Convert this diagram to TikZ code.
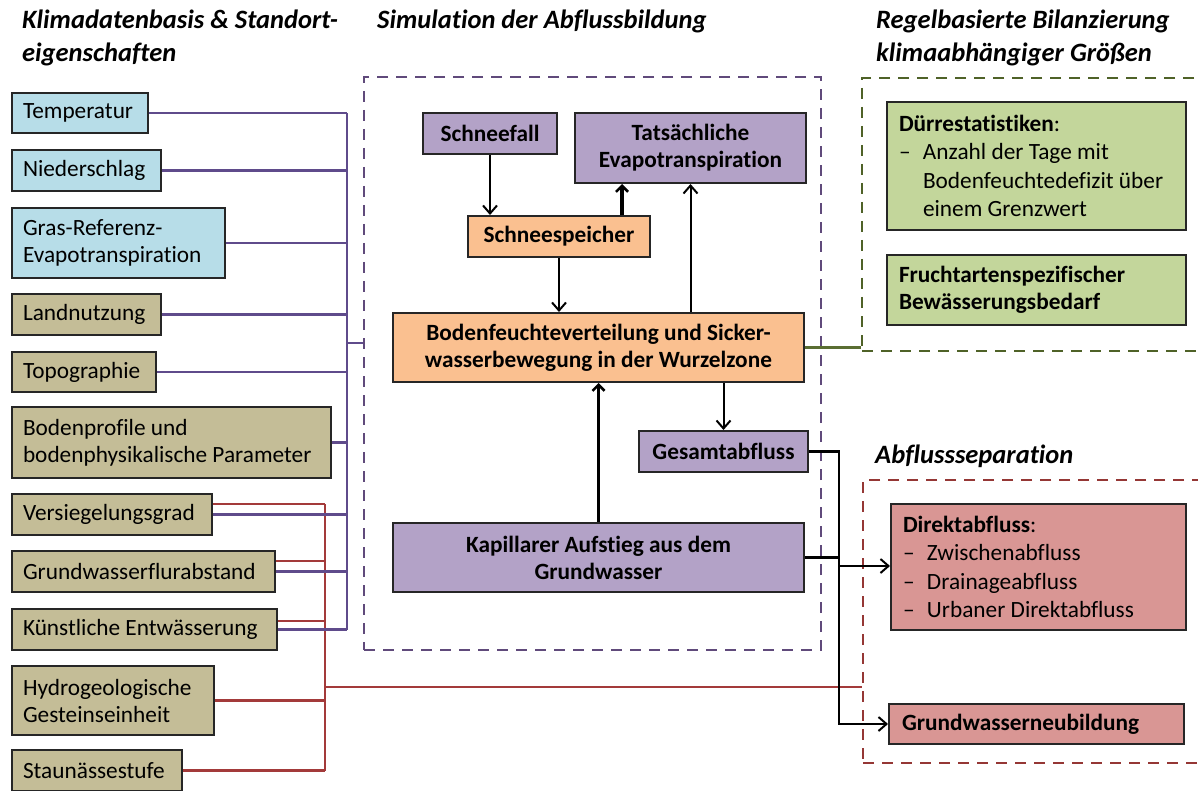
\documentclass[tikz,border=0pt]{standalone}
\usepackage{fontspec}
\setmainfont{Carlito}[Ligatures=NoCommon]
\usetikzlibrary{arrows.meta,calc}
\hyphenpenalty=10000
\exhyphenpenalty=10000
\definecolor{cblue}{HTML}{B7DDE8}
\definecolor{ctan}{HTML}{C4BD97}
\definecolor{cpurp}{HTML}{B3A2C7}
\definecolor{corange}{HTML}{FAC090}
\definecolor{cgreen}{HTML}{C3D69B}
\definecolor{cred}{HTML}{D99694}
\definecolor{lpurp}{HTML}{5F4B8B}
\definecolor{lred}{HTML}{A33A3A}
\definecolor{lgreen}{HTML}{5A6E32}
\definecolor{fpurp}{HTML}{604A7B}
\definecolor{fred}{HTML}{953735}
\definecolor{fgreen}{HTML}{4F6228}
\tikzset{
  box/.style={draw=black!85, line width=2pt, inner ysep=0pt},
  txt/.style={font=\fontsize{23.3}{27}\selectfont},
  lbox/.style={box, txt, align=flush left, inner xsep=11pt},
  cbox/.style={box, font=\fontsize{23.3}{27}\selectfont\bfseries, align=center, inner xsep=0pt},
  rbox/.style={box, font=\fontsize{23.3}{28.5}\selectfont, align=flush left, inner xsep=12pt},
  ttl/.style={font=\fontsize{26.5}{33.5}\selectfont\bfseries\itshape, align=flush left, inner sep=0pt, anchor=base west},
  frame/.style={line width=2.8pt, dash pattern=on 11pt off 8pt, inner sep=0pt},
  pline/.style={draw=lpurp, line width=2.4pt},
  rline/.style={draw=lred, line width=2.4pt},
  gline/.style={draw=lgreen, line width=2.4pt},
  thinarr/.style={draw=black, line width=2pt, -{Straight Barb[length=8pt,width=14pt,line width=2pt]}},
  thickarr/.style={draw=black, line width=3.5pt, -{Straight Barb[length=6pt,width=12pt,line width=2.6pt]}},
  bline/.style={draw=black, line width=2.2pt},
}
\newcommand{\dashitem}{\makebox[24pt][l]{–}}
\begin{document}
\begin{tikzpicture}[x=1pt,y=-1pt]
\clip (0,0) rectangle (1198,791);
\fill[white] (0,0) rectangle (1198,791);

% titles (anchor at baseline of last line)
\node[ttl] (t1) at (22,62) {Klimadatenbasis \& Standort-\\eigenschaften};
\node[ttl] (t2) at (377,29) {Simulation der Abflussbildung};
\node[ttl] (t3) at (876,62) {Regelbasierte Bilanzierung\\klimaabhängiger Größen};
\node[ttl] (t4) at (875,463) {Abflussseparation};

% frames
\node[frame, draw=fpurp, minimum width=457pt, minimum height=573pt] (simf) at (592.5,363.5) {};
\node[frame, draw=fgreen, minimum width=343pt, minimum height=273pt] (grnf) at (1033.5,214.5) {};
\node[frame, draw=fred, minimum width=342pt, minimum height=283pt] (redf) at (1034,621.5) {};

% left column
\node[lbox, fill=cblue, minimum width=136pt, minimum height=40pt, text width=114pt] (temp) at (80,113) {Temperatur};
\node[lbox, fill=cblue, minimum width=149pt, minimum height=41pt, text width=127pt] (nied) at (86.5,170.5) {Niederschlag};
\node[lbox, fill=cblue, minimum width=213pt, minimum height=70pt, text width=191pt] (gras) at (118.5,243) {Gras-Referenz-\\Evapotranspiration};
\node[lbox, fill=ctan, minimum width=149pt, minimum height=41pt, text width=127pt] (land) at (86.5,314.5) {Landnutzung};
\node[lbox, fill=ctan, minimum width=144pt, minimum height=40pt, text width=122pt] (topo) at (84,372) {Topographie};
\node[lbox, fill=ctan, minimum width=319pt, minimum height=71pt, text width=297pt] (boden) at (171.5,442.5) {Bodenprofile und\\bodenphysikalische Parameter};
\node[lbox, fill=ctan, minimum width=200pt, minimum height=41pt, text width=178pt] (vers) at (112,514.5) {Versiegelungsgrad};
\node[lbox, fill=ctan, minimum width=263pt, minimum height=41pt, text width=241pt] (gwfa) at (143.5,571.5) {Grundwasserflurabstand};
\node[lbox, fill=ctan, minimum width=265pt, minimum height=41pt, text width=243pt] (kuen) at (144.5,629.5) {Künstliche Entwässerung};
\node[lbox, fill=ctan, minimum width=202pt, minimum height=69pt, text width=180pt] (hydro) at (113,700.5) {Hydrogeologische\\Gesteinseinheit};
\node[lbox, fill=ctan, minimum width=170pt, minimum height=41pt, text width=148pt] (stau) at (97,770.5) {Staunässestufe};

% middle
\node[cbox, fill=cpurp, minimum width=134pt, minimum height=41pt] (snow) at (490,133.5) {Schneefall};
\node[cbox, fill=cpurp, minimum width=231pt, minimum height=70pt] (tats) at (690.5,148) {Tatsächliche\\Evapotranspiration};
\node[cbox, fill=corange, minimum width=182pt, minimum height=41pt] (sp) at (559,236.5) {Schneespeicher};
\node[cbox, fill=corange, minimum width=411pt, minimum height=69pt] (bf) at (598.5,347.5) {Bodenfeuchteverteilung und Sicker-\\wasserbewegung in der Wurzelzone};
\node[cbox, fill=cpurp, minimum width=169pt, minimum height=41pt] (ges) at (723.5,451.5) {Gesamtabfluss};
\node[cbox, fill=cpurp, minimum width=411pt, minimum height=69pt] (kap) at (598.5,557.5) {Kapillarer Aufstieg aus dem\\Grundwasser};

% right
\node[rbox, fill=cgreen, minimum width=299pt, minimum height=128pt, text width=275pt] (due) at (1036.5,166) {\textbf{Dürrestatistiken}:\\\dashitem Anzahl der Tage mit\\\hspace*{24pt}Bodenfeuchtedefizit über\\\hspace*{24pt}einem Grenzwert};
\node[rbox, fill=cgreen, minimum width=299pt, minimum height=70pt, text width=275pt, font=\fontsize{23.3}{27}\selectfont\bfseries] (fru) at (1036.5,290) {Fruchtartenspezifischer\\Bewässerungsbedarf};
\node[rbox, fill=cred, minimum width=295pt, minimum height=126pt, text width=271pt] (dir) at (1038.5,567) {\textbf{Direktabfluss}:\\\dashitem Zwischenabfluss\\\dashitem Drainageabfluss\\\dashitem Urbaner Direktabfluss};
\node[rbox, fill=cred, minimum width=295pt, minimum height=40pt, text width=269pt, inner xsep=13pt, font=\fontsize{23.3}{27}\selectfont\bfseries] (gwn) at (1036.5,724) {Grundwasserneubildung};

% purple bus
\coordinate (pbt) at (347,113);
\coordinate (pbb) at (347,630);
\coordinate (pbj) at (347,343);
\draw[pline] (pbt) -- (pbb);
\draw[pline] (temp.east) -- (temp.east -| pbt);
\draw[pline] (nied.east) -- (nied.east -| pbt);
\draw[pline] (gras.east) -- (gras.east -| pbt);
\draw[pline] (land.east) -- (land.east -| pbt);
\draw[pline] (topo.east) -- (topo.east -| pbt);
\draw[pline] (boden.east) -- (boden.east -| pbt);
\draw[pline] (pbj) -- (pbj -| simf.west);

% red bus
\coordinate (rbt) at (325,504);
\coordinate (rbb) at (325,771);
\coordinate (rbj) at (325,687);
\draw[rline] (rbt) -- (rbb);
\draw[rline] ([yshift=10.5pt]vers.east) -- (rbt);
\draw[rline] ([yshift=10.5pt]gwfa.east) -- ([yshift=10.5pt]gwfa.east -| rbt);
\draw[rline] ([yshift=8.5pt]kuen.east) -- ([yshift=8.5pt]kuen.east -| rbt);
\draw[rline] (hydro.east) -- (hydro.east -| rbt);
\draw[rline] (stau.east) -- (stau.east -| rbt);
\draw[rline] (rbj) -- (rbj -| redf.west);

% purple lines over red bus
\draw[pline] (vers.east) -- (vers.east -| pbt);
\draw[pline] (gwfa.east) -- (gwfa.east -| pbt);
\draw[pline] (kuen.east) -- (kuen.east -| pbt);

% green link
\draw[gline] (bf.east) -- (bf.east -| grnf.west);

% arrows in simulation
\draw[thinarr] (snow.south) -- (snow.south |- sp.north);
\draw[thickarr] ([xshift=63pt]sp.north) -- ([xshift=63pt]sp.north |- tats.south);
\draw[thinarr] (sp.south) -- (sp.south |- bf.north);
\draw[thinarr] (bf.north -| tats.south) -- (tats.south);
\draw[thinarr] (bf.south -| ges.north) -- (ges.north);
\draw[thickarr] (kap.north) -- (bf.south);

% outflow
\coordinate (jn) at (839,724);
\draw[bline] (kap.east) -- (kap.east -| jn);
\draw[thinarr, line width=2.2pt] (ges.east) -| (jn) -- (gwn.west);
\draw[thinarr, line width=2.2pt] ([yshift=1pt]dir.west -| jn) -- ([yshift=1pt]dir.west);
\end{tikzpicture}
\end{document}
